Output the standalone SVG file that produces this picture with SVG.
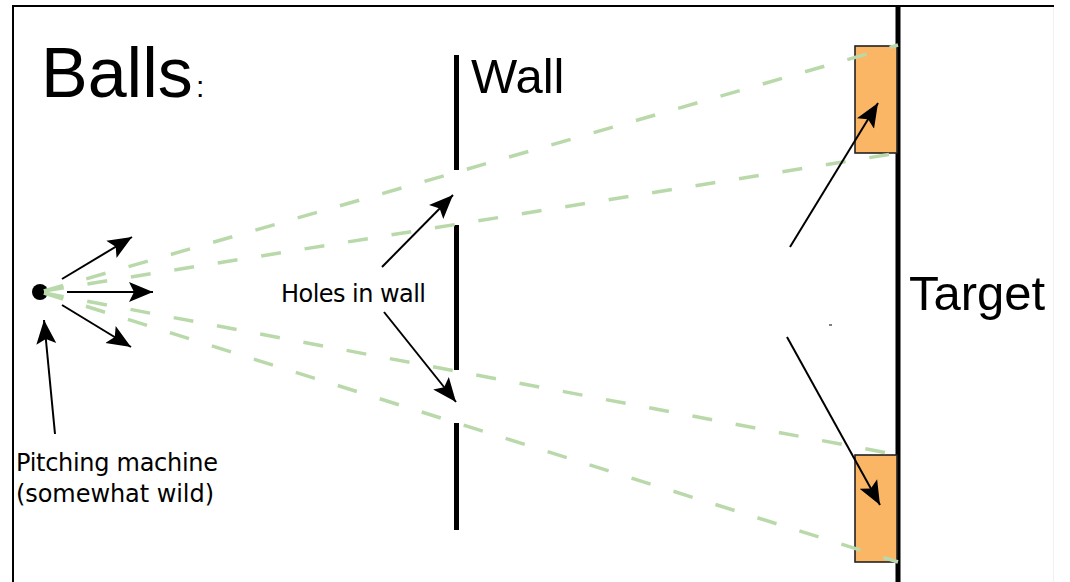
<svg xmlns="http://www.w3.org/2000/svg" width="1070" height="582" viewBox="0 0 1070 582">
<style>
.big{font-family:"Liberation Sans",Arial,sans-serif;fill:#000}
.small{font-family:"DejaVu Sans","Liberation Sans",sans-serif;font-size:24px;fill:#000}
.ball{fill:none;stroke:#b9d9ab;stroke-width:3.5;stroke-dasharray:20 24}
.arrow{fill:none;stroke:#000;stroke-width:2;marker-end:url(#ah)}
.wall{stroke:#000;stroke-width:5;fill:none}
.pad{fill:#fbb665;stroke:#222;stroke-width:1.6}
</style>
<defs>
<marker id="ah" markerUnits="userSpaceOnUse" markerWidth="28" markerHeight="24" viewBox="0 -12 28 24" refX="24" refY="0" orient="auto">
<path d="M0,-10 L24,0 L0,10 L5,0 Z" fill="#000"/>
</marker>
</defs>
<rect width="1070" height="582" fill="#fff"/>
<g id="frame">
<line x1="13" y1="6" x2="1054" y2="6" stroke="#000" stroke-width="2"/>
<line x1="13" y1="5" x2="13" y2="582" stroke="#000" stroke-width="2"/>
<line x1="1053.5" y1="7" x2="1053.5" y2="582" stroke="#f0f0f0" stroke-width="1"/>
</g>
<g id="target-wall">
<line class="wall" x1="898" y1="6" x2="898" y2="582"/>
</g>
<g id="target-upper"><rect class="pad" x="855" y="46" width="42" height="107"/></g>
<g id="target-lower"><rect class="pad" x="855" y="455" width="42" height="107"/></g>
<g id="wall">
<line class="wall" x1="456.5" y1="55" x2="456.5" y2="170"/>
<line class="wall" x1="456.5" y1="225" x2="456.5" y2="370"/>
<line class="wall" x1="456.5" y1="423" x2="456.5" y2="530"/>
</g>
<g id="machine"><circle cx="40" cy="292" r="8" fill="#000"/></g>
<g id="connectors">
<line class="ball" x1="44" y1="291" x2="898" y2="45"/>
<line class="ball" x1="44" y1="291" x2="898" y2="153"/>
<line class="ball" x1="44" y1="293" x2="898" y2="455"/>
<line class="ball" x1="44" y1="293" x2="898" y2="562"/>
<line class="arrow" x1="62" y1="279" x2="132" y2="237"/>
<line class="arrow" x1="67" y1="292" x2="153" y2="292"/>
<line class="arrow" x1="62" y1="305" x2="131" y2="347"/>
<line class="arrow" x1="55" y1="434" x2="44" y2="320"/>
<line class="arrow" x1="382" y1="267" x2="453" y2="195"/>
<line class="arrow" x1="384" y1="312" x2="456" y2="402"/>
<line class="arrow" x1="790" y1="247" x2="878" y2="103"/>
<line class="arrow" x1="787" y1="337" x2="880" y2="505"/>
<line x1="829" y1="325" x2="832" y2="325" stroke="#000" stroke-width="1"/>
</g>
<g id="labels">
<text class="big" x="41" y="97" font-size="70">Balls</text>
<text class="big" x="196" y="97" font-size="30">:</text>
<text class="big" x="471" y="93" font-size="49">Wall</text>
<text class="big" x="909" y="310" font-size="49">Target</text>
<text class="small" x="281" y="302" textLength="145">Holes in wall</text>
<text class="small" x="16" y="471" textLength="202">Pitching machine</text>
<text class="small" x="16" y="502" textLength="198">(somewhat wild)</text>
</g>
</svg>
